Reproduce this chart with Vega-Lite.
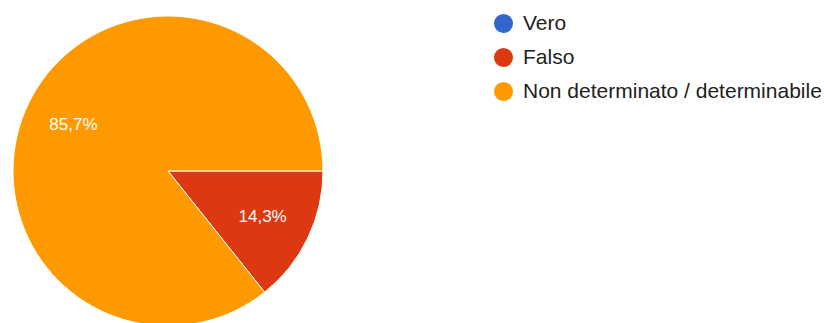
{
  "$schema": "https://vega.github.io/schema/vega-lite/v6.json",
  "width": 824,
  "height": 323,
  "autosize": {"type": "none"},
  "padding": 0,
  "background": "white",
  "config": {"view": {"stroke": null}, "font": "Liberation Sans"},
  "data": {"values": [
    {"risposta": "Vero", "valore": 0, "etichetta": ""},
    {"risposta": "Falso", "valore": 1, "etichetta": "14,3%"},
    {"risposta": "Non determinato / determinabile", "valore": 6, "etichetta": "85,7%"}
  ]},
  "encoding": {
    "theta": {"field": "valore", "type": "quantitative", "stack": true, "scale": {"range": [1.5708, 7.854]}}
  },
  "layer": [
    {
      "mark": {"type": "arc", "x": 168, "y": 171, "outerRadius": 155, "stroke": "white", "strokeWidth": 1},
      "encoding": {
        "color": {
          "field": "risposta", "type": "nominal",
          "sort": ["Vero", "Falso", "Non determinato / determinabile"],
          "scale": {"domain": ["Vero", "Falso", "Non determinato / determinabile"], "range": ["#3366cc", "#dc3912", "#ff9900"]},
          "legend": {
            "title": null, "orient": "none", "legendX": 493, "legendY": 13,
            "symbolType": "circle", "symbolSize": 361, "symbolStrokeWidth": 0,
            "labelFontSize": 21, "labelColor": "#222222", "labelFont": "Liberation Sans",
            "rowPadding": 12, "labelOffset": 9, "labelLimit": 400
          }
        }
      }
    },
    {
      "mark": {"type": "text", "x": 168, "y": 171, "radius": 105, "fill": "white", "fontSize": 17, "font": "Liberation Sans", "align": "center", "baseline": "middle"},
      "encoding": {"text": {"field": "etichetta"}}
    }
  ]
}
